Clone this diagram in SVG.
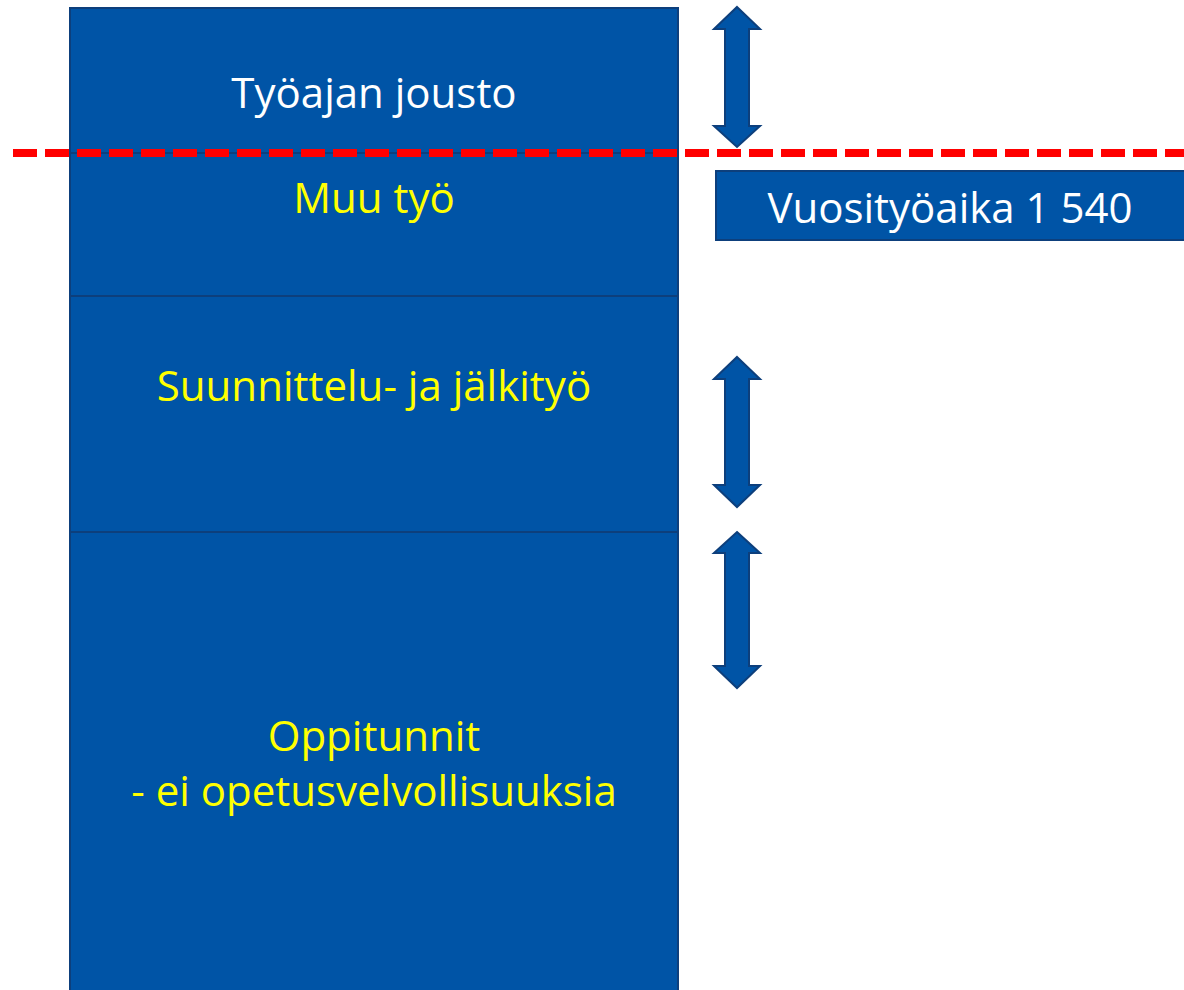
<svg xmlns="http://www.w3.org/2000/svg" width="1184" height="990" viewBox="0 0 1184 990">
<style>
.box{fill:#0054a6;stroke:#0d3f7c;stroke-width:2}
.arr{fill:#0054a6;stroke:#0d3f7c;stroke-width:2;stroke-linejoin:miter}
.t{font-family:"Open Sans","Noto Sans",sans-serif;font-size:42px;text-anchor:middle}
.w{fill:#ffffff}
.y{fill:#ffff00}
</style>
<rect width="1184" height="990" fill="#ffffff"/>
<g id="jousto"><rect class="box" x="70" y="8" width="608" height="145"/><text class="t w" x="374" y="108">Työajan jousto</text></g>
<g id="muu"><rect class="box" x="70" y="153" width="608" height="143"/><text class="t y" x="374" y="213">Muu työ</text></g>
<g id="suunnittelu"><rect class="box" x="70" y="296" width="608" height="236"/><text class="t y" x="374" y="401">Suunnittelu- ja jälkityö</text></g>
<g id="oppitunnit"><rect class="box" x="70" y="532" width="608" height="470"/><text class="t y" x="374" y="751">Oppitunnit</text><text class="t y" x="374" y="806">- ei opetusvelvollisuuksia</text></g>
<g id="vuosi"><rect class="box" x="716" y="171" width="480" height="69"/><text class="t w" x="950" y="223">Vuosityöaika 1 540</text></g>
<g id="connectors">
<path class="arr" d="M737 7 L760 29 L749 29 L749 126 L760 126 L737 147 L714 126 L725 126 L725 29 L714 29 Z"/>
<path class="arr" d="M737 357 L760 379 L749 379 L749 485 L760 485 L737 507 L714 485 L725 485 L725 379 L714 379 Z"/>
<path class="arr" d="M737 532 L760 553 L749 553 L749 666 L760 666 L737 688 L714 666 L725 666 L725 553 L714 553 Z"/>
<line x1="13" y1="153" x2="1184" y2="153" stroke="#ff0000" stroke-width="8" stroke-dasharray="24 8"/>
</g>
</svg>
